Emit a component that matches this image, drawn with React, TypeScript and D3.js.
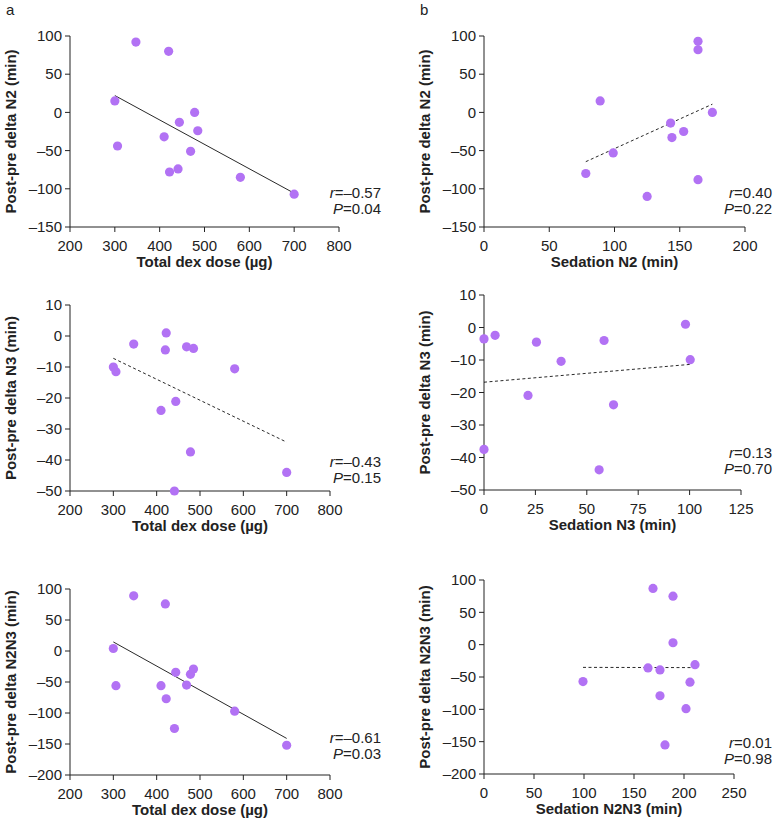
import React from 'react';
import * as d3 from 'd3';

// subjects in the dose panels (same order in all three)
const doseUg = [347, 420, 300, 306, 478, 444, 485, 410, 469, 422, 441, 580, 700];
const deltaN2 = [92, 80, 15, -44, 0, -13, -24, -32, -51, -78, -74, -85, -107];
const deltaN3 = [-2.6, -4.5, -10, -11.5, -37.4, -21.1, -4, -24, -3.5, 1, -50, -10.6, -44];
const deltaN2N3 = [89, 76, 4, -56, -37.6, -34.4, -29, -56, -55, -77, -125, -97, -152];

// sedation panels
const sedationN2 = [164, 164, 89, 143, 144, 153, 175, 99, 78, 125, 164];
const sedDeltaN2 = [93, 82, 15, -14, -33, -25, 0, -53, -80, -110, -88];
const sedationN3 = [0, 5.4, 25.5, 37.5, 58.4, 98, 100.3, 21.4, 63, 0, 56];
const sedDeltaN3 = [-3.5, -2.4, -4.5, -10.4, -4, 1, -9.9, -20.9, -23.8, -37.5, -43.8];
const sedationN2N3 = [169, 189, 189, 211, 164, 176, 99, 206, 176, 202, 181];
const sedDeltaN2N3 = [87, 75, 3, -31, -36, -39, -57, -58, -79, -99, -155];

const doseTicks = [200, 300, 400, 500, 600, 700, 800];
const n2Ticks = [-150, -100, -50, 0, 50, 100];
const n3Ticks = [-50, -40, -30, -20, -10, 0, 10];
const n2n3Ticks = [-200, -150, -100, -50, 0, 50, 100];
const sedN2Ticks = [0, 50, 100, 150, 200];
const sedN3Ticks = [0, 25, 50, 75, 100, 125];
const sedN2N3Ticks = [0, 50, 100, 150, 200, 250];

const stats = [
    { r: '–0.57', p: '0.04' },
    { r: '0.40', p: '0.22' },
    { r: '–0.43', p: '0.15' },
    { r: '0.13', p: '0.70' },
    { r: '–0.61', p: '0.03' },
    { r: '0.01', p: '0.98' },
];

const DOT = '#b272f4';
const FONT = 'Arial, "Liberation Sans", Helvetica, sans-serif';

const panels = [
    { xs: doseUg, ys: deltaN2, xTicks: doseTicks, yTicks: n2Ticks, box: [70, 339, 36, 227], xTitle: 'Total dex dose (µg)', yTitle: 'Post-pre delta N2 (min)', dashed: false, label: 'a', statRight: 381, statY: 198 },
    { xs: sedationN2, ys: sedDeltaN2, xTicks: sedN2Ticks, yTicks: n2Ticks, box: [484, 745, 36, 227], xTitle: 'Sedation N2 (min)', yTitle: 'Post-pre delta N2 (min)', dashed: true, label: 'b', statRight: 772, statY: 198 },
    { xs: doseUg, ys: deltaN3, xTicks: doseTicks, yTicks: n3Ticks, box: [70, 330, 305, 491], xTitle: 'Total dex dose (µg)', yTitle: 'Post-pre delta N3 (min)', dashed: true, statRight: 381, statY: 467 },
    { xs: sedationN3, ys: sedDeltaN3, xTicks: sedN3Ticks, yTicks: n3Ticks, box: [484, 741, 295, 490], xTitle: 'Sedation N3 (min)', yTitle: 'Post-pre delta N3 (min)', dashed: true, statRight: 772, statY: 458 },
    { xs: doseUg, ys: deltaN2N3, xTicks: doseTicks, yTicks: n2n3Ticks, box: [70, 330, 589, 775], xTitle: 'Total dex dose (µg)', yTitle: 'Post-pre delta N2N3 (min)', dashed: false, statRight: 381, statY: 743 },
    { xs: sedationN2N3, ys: sedDeltaN2N3, xTicks: sedN2N3Ticks, yTicks: n2n3Ticks, box: [484, 734, 580, 774], xTitle: 'Sedation N2N3 (min)', yTitle: 'Post-pre delta N2N3 (min)', dashed: true, statRight: 772, statY: 748 },
];

// least squares fit, drawn between the smallest and largest x
function fitLine(xs: number[], ys: number[]) {
    const mx = d3.mean(xs) as number;
    const my = d3.mean(ys) as number;
    const sxy = d3.sum(xs, (x, i) => (x - mx) * (ys[i] - my));
    const sxx = d3.sum(xs, x => (x - mx) * (x - mx));
    const slope = sxy / sxx;
    const [x0, x1] = d3.extent(xs) as [number, number];
    return [[x0, my + slope * (x0 - mx)], [x1, my + slope * (x1 - mx)]];
}

const tickText = (v: number) => (v < 0 ? '–' + Math.abs(v) : String(v));

function Panel({ p, stat }: any) {
    const [left, right, top, bottom] = p.box;
    const x = d3.scaleLinear().domain(d3.extent(p.xTicks) as [number, number]).range([left, right]);
    const y = d3.scaleLinear().domain(d3.extent(p.yTicks) as [number, number]).range([bottom, top]);
    const fit = fitLine(p.xs, p.ys);
    const line = d3.line<number[]>().x(d => x(d[0])).y(d => y(d[1]));
    return (
        <g>
            {p.label && <text x={left - 64} y={15} fontSize={15}>{p.label}</text>}
            <line x1={left} x2={left} y1={top} y2={bottom} stroke="#222" strokeWidth={1} />
            <line x1={left} x2={right} y1={bottom} y2={bottom} stroke="#222" strokeWidth={1} />
            {p.yTicks.map((t: number) => (
                <g key={'y' + t}>
                    <line x1={left - 5} x2={left} y1={y(t)} y2={y(t)} stroke="#222" />
                    <text x={left - 8} y={y(t)} dy="0.35em" textAnchor="end" fontSize={15}>{tickText(t)}</text>
                </g>
            ))}
            {p.xTicks.map((t: number) => (
                <g key={'x' + t}>
                    <line x1={x(t)} x2={x(t)} y1={bottom} y2={bottom + 5} stroke="#222" />
                    <text x={x(t)} y={bottom + 23.5} textAnchor="middle" fontSize={15}>{tickText(t)}</text>
                </g>
            ))}
            <text x={(left + right) / 2} y={bottom + 40} textAnchor="middle" fontSize={15} fontWeight="bold">{p.xTitle}</text>
            <text transform={`translate(${left - 54},${(top + bottom) / 2}) rotate(-90)`} textAnchor="middle" fontSize={15} fontWeight="bold">{p.yTitle}</text>
            <path d={line(fit) || ''} fill="none" stroke="#111" strokeWidth={0.9} strokeDasharray={p.dashed ? '3,2.5' : undefined} />
            {p.xs.map((v: number, i: number) => (
                <circle key={i} cx={x(v)} cy={y(p.ys[i])} r={4.6} fill={DOT} />
            ))}
            <text x={p.statRight} y={p.statY} textAnchor="end" fontSize={15}>
                <tspan fontStyle="italic">r</tspan>={stat.r}
            </text>
            <text x={p.statRight} y={p.statY + 16} textAnchor="end" fontSize={15}>
                <tspan fontStyle="italic">P</tspan>={stat.p}
            </text>
        </g>
    );
}

export default function App() {
    return (
        <svg width={776} height={823} style={{ position: 'absolute', left: 0, top: 0, background: '#fff' }} fontFamily={FONT} fill="#222">
            {panels.map((p, i) => <Panel key={i} p={p} stat={stats[i]} />)}
        </svg>
    );
}
